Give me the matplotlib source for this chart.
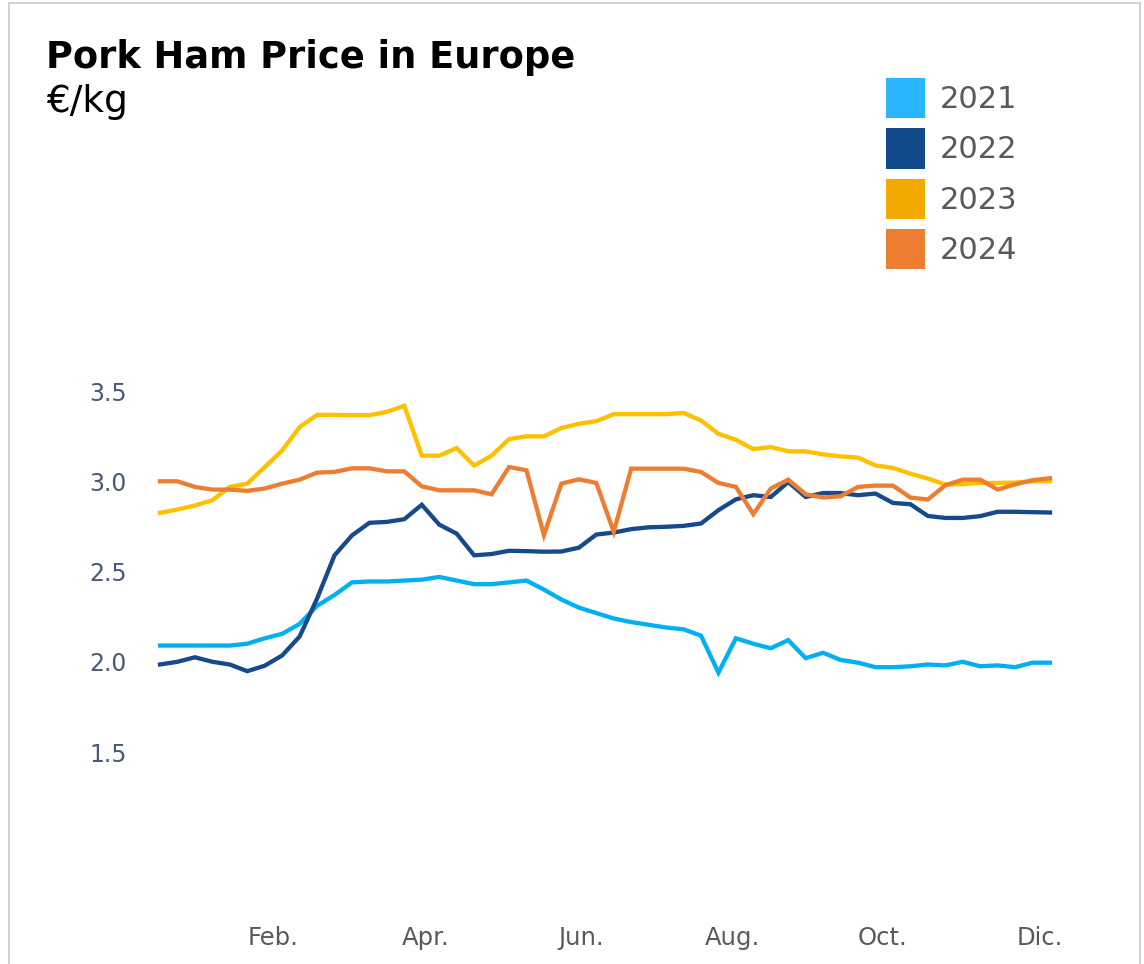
import numpy as np
import matplotlib.pyplot as plt
from matplotlib.patches import Patch, Rectangle

# Precio semanal del jamón de cerdo (€/kg), 52 semanas por año
p2021 = [2.09, 2.09, 2.09, 2.09, 2.09, 2.10, 2.13, 2.155, 2.21, 2.31, 2.37, 2.44, 2.445,
         2.445, 2.45, 2.455, 2.47, 2.45, 2.43, 2.43, 2.44, 2.45, 2.40, 2.345, 2.30, 2.27,
         2.24, 2.22, 2.205, 2.19, 2.18, 2.145, 1.94, 2.13, 2.10, 2.075, 2.12, 2.02, 2.05,
         2.01, 1.995, 1.97, 1.97, 1.975, 1.985, 1.98, 2.0, 1.975, 1.98, 1.97, 1.995, 1.995]
p2022 = [1.985, 2.0, 2.025, 2.0, 1.985, 1.948, 1.978, 2.035, 2.14, 2.35, 2.59, 2.70, 2.77,
         2.775, 2.79, 2.87, 2.76, 2.71, 2.59, 2.597, 2.615, 2.613, 2.61, 2.611, 2.632, 2.705,
         2.716, 2.735, 2.745, 2.748, 2.753, 2.766, 2.84, 2.90, 2.923, 2.913, 2.996, 2.913,
         2.935, 2.935, 2.923, 2.932, 2.88, 2.873, 2.808, 2.797, 2.797, 2.807, 2.831, 2.831,
         2.829, 2.827]
p2023 = [2.825, 2.844, 2.866, 2.895, 2.969, 2.987, 3.079, 3.171, 3.30, 3.368, 3.368, 3.366,
         3.366, 3.385, 3.418, 3.142, 3.142, 3.184, 3.087, 3.142, 3.234, 3.249, 3.249, 3.295,
         3.319, 3.333, 3.372, 3.372, 3.372, 3.372, 3.379, 3.337, 3.263, 3.230, 3.178, 3.190,
         3.166, 3.166, 3.149, 3.138, 3.131, 3.088, 3.074, 3.042, 3.015, 2.982, 2.984, 2.991,
         2.991, 2.993, 3.0, 3.0]
p2024 = [3.0, 3.0, 2.969, 2.954, 2.954, 2.947, 2.960, 2.987, 3.009, 3.048, 3.052, 3.072,
         3.072, 3.055, 3.055, 2.972, 2.950, 2.950, 2.950, 2.928, 3.079, 3.061, 2.702, 2.987,
         3.011, 2.991, 2.72, 3.070, 3.070, 3.070, 3.070, 3.052, 2.991, 2.969, 2.818, 2.960,
         3.009, 2.928, 2.910, 2.917, 2.969, 2.976, 2.976, 2.910, 2.899, 2.978, 3.009, 3.009,
         2.954, 2.983, 3.006, 3.017]

years = ['2021', '2022', '2023', '2024']
series = [p2021, p2022, p2023, p2024]
line_colors = ['#00B0F0', '#174A8B', '#FFC000', '#ED7D31']
legend_colors = ['#29B6FF', '#134A8C', '#F2A900', '#ED7D31']

month_pos = [6.5, 15.2, 24.1, 32.8, 41.4, 50.4]
month_lbl = ['Feb.', 'Apr.', 'Jun.', 'Aug.', 'Oct.', 'Dic.']
yticks = [1.5, 2.0, 2.5, 3.0, 3.5]

W, H = 1144, 964
fig = plt.figure(figsize=(W / 100, H / 100), dpi=100)

# marco gris alrededor
fig.add_artist(Rectangle((9 / W, -0.02), 1131 / W, 1.02 - 3 / H, transform=fig.transFigure,
                         fill=False, edgecolor='#C8C8C8', linewidth=1.2))

# eje: semana 0 en x=160px, semana 51 en x=1050px; 3.5 en y=391px, 1.5 en y=752px
ax = fig.add_axes([160 / W, (H - 923.5) / H, 890 / W, 550.5 / H])
weeks = np.arange(52)
for s, c in zip(series, line_colors):
    ax.plot(weeks, s, color=c, linewidth=3.1, solid_joinstyle='miter', clip_on=False)

ax.set_xlim(0, 51)
ax.set_ylim(0.55, 3.6)
for sp in ax.spines.values():
    sp.set_visible(False)
ax.set_yticks(yticks)
ax.set_yticklabels(['%.1f' % v for v in yticks])
ax.set_xticks(month_pos)
ax.set_xticklabels(month_lbl)
ax.tick_params(axis='y', length=0, pad=24, labelsize=17, labelcolor='#4A5A75')
ax.tick_params(axis='x', length=0, pad=2, labelsize=17.5, labelcolor='#595959')

fig.text(46 / W, 1 - 68 / H, 'Pork Ham Price in Europe', fontsize=26.5, fontweight='bold',
         color='black', ha='left', va='baseline')
fig.text(46 / W, 1 - 112 / H, '€/kg', fontsize=27, color='black', ha='left', va='baseline')

handles = [Patch(facecolor=c, edgecolor='none') for c in legend_colors]
fig.legend(handles, years, loc='upper left', bbox_to_anchor=(886 / W, 1 - 78 / H),
           frameon=False, fontsize=22, labelcolor='#595959', handlelength=1.27,
           handleheight=1.65, handletextpad=0.5, labelspacing=0.33, borderpad=0,
           borderaxespad=0)

plt.savefig('out.png', dpi=100)
